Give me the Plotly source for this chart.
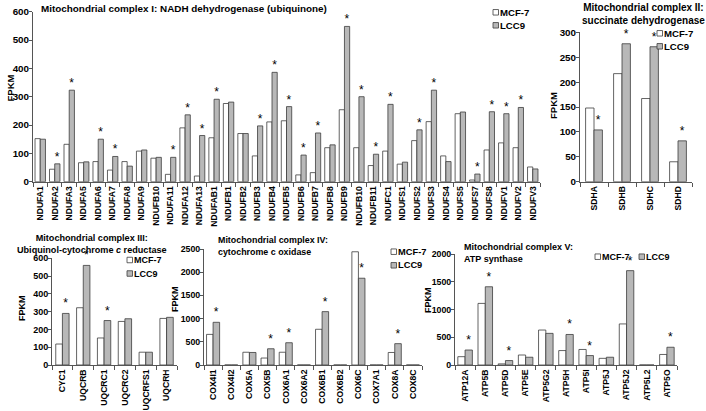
import plotly.graph_objects as go

# ---------------- data ----------------
cats1 = ["NDUFA1", "NDUFA2", "NDUFA3", "NDUFA5", "NDUFA6", "NDUFA7", "NDUFA8", "NDUFA9",
         "NDUFB10", "NDUFA11", "NDUFA12", "NDUFA13", "NDUFAB1", "NDUFB1", "NDUFB2", "NDUFB3",
         "NDUFB4", "NDUFB5", "NDUFB6", "NDUFB7", "NDUFB8", "NDUFB9", "NDUFB10", "NDUFB11",
         "NDUFC1", "NDUFS1", "NDUFS2", "NDUFS3", "NDUFS4", "NDUFS5", "NDUFS7", "NDUFS8",
         "NDUFV1", "NDUFV2", "NDUFV3"]
mcf1 = [152, 44, 132, 67, 71, 41, 71, 108, 83, 26, 190, 20, 155, 276, 170, 91, 211, 215, 24, 32,
        120, 254, 120, 57, 108, 62, 145, 212, 91, 240, 6, 112, 137, 120, 52]
lcc1 = [150, 63, 323, 70, 150, 89, 55, 112, 86, 86, 236, 163, 291, 281, 170, 197, 386, 265, 94, 172,
        130, 548, 300, 97, 273, 69, 183, 323, 71, 246, 27, 247, 240, 262, 45]
sig1 = [0, 1, 1, 0, 1, 1, 0, 0, 0, 1, 1, 1, 1, 0, 0, 1, 1, 1, 1, 1,
        0, 1, 1, 1, 1, 0, 1, 1, 0, 0, 1, 1, 1, 1, 0]

cats2 = ["SDHA", "SDHB", "SDHC", "SDHD"]
mcf2 = [148, 217, 167, 40]
lcc2 = [104, 277, 271, 82]
sig2 = [1, 1, 1, 1]

cats3 = ["CYC1", "UQCRB", "UQCRC1", "UQCRC2", "UQCRFS1", "UQCRH"]
mcf3 = [118, 322, 152, 245, 72, 262]
lcc3 = [290, 560, 250, 260, 72, 268]
sig3 = [1, 1, 1, 0, 0, 0]

cats4 = ["COX4I1", "COX4I2", "COX5A", "COX5B", "COX6A1", "COX6A2", "COX6B1", "COX6B2",
         "COX6C", "COX7A1", "COX8A", "COX8C"]
mcf4 = [660, 0, 275, 150, 275, 0, 770, 0, 2440, 0, 270, 0]
lcc4 = [920, 0, 270, 350, 480, 0, 1150, 0, 1870, 0, 460, 0]
sig4 = [1, 0, 0, 1, 1, 0, 1, 0, 1, 0, 1, 0]

cats5 = ["ATP12A", "ATP5B", "ATP5D", "ATP5E", "ATP5G2", "ATP5H", "ATP5I", "ATP5J", "ATP5J2",
         "ATP5L2", "ATP5O"]
mcf5 = [150, 1110, 20, 180, 630, 260, 280, 120, 740, 0, 190]
lcc5 = [270, 1410, 80, 140, 570, 550, 170, 140, 1700, 0, 320]
sig5 = [1, 1, 1, 0, 0, 1, 1, 0, 1, 0, 1]

series_names = ["MCF-7", "LCC9"]

# ---------------- styling ----------------
W, H = 706, 411
FONT = "Liberation Sans"
EDGE = "#3c3c3c"
GREY = "#b8b8b8"
AX = "#555555"
FILLS = ["white", GREY]


def fx(px):
    return px / W


def fy(py):
    return 1 - py / H


panels = [
    # cats, mcf, lcc, sig, suffix, bar width, x px domain, y px (bottom, top), y max, dtick, ytick size
    (cats1, mcf1, lcc1, sig1, "", 0.36, (33, 540), (181.7, 11.7), 600, 100, 9.8),
    (cats2, mcf2, lcc2, sig2, "2", 0.30, (580, 692), (181.7, 32.3), 300, 50, 9.8),
    (cats3, mcf3, lcc3, sig3, "3", 0.32, (52, 177), (365, 258.3), 600, 100, 9),
    (cats4, mcf4, lcc4, sig4, "4", 0.36, (204, 422), (365, 249), 2500, 500, 8.8),
    (cats5, mcf5, lcc5, sig5, "5", 0.36, (455, 677), (365, 254), 2000, 500, 8.8),
]

fig = go.Figure()
layout_axes = {}
for cats, m, l, s, suf, w, xd, yd, ymax, dt, yts in panels:
    idx = list(range(len(cats)))
    xa, ya = "x" + suf, "y" + suf
    fig.add_trace(go.Bar(
        x=idx, y=m, width=w, offset=-w, name=series_names[0], xaxis=xa, yaxis=ya,
        showlegend=False,
        marker=dict(color=FILLS[0], line=dict(color=EDGE, width=0.8)),
        hoverinfo="skip"))
    fig.add_trace(go.Bar(
        x=idx, y=l, width=w, offset=0, name=series_names[1], xaxis=xa, yaxis=ya,
        showlegend=False,
        marker=dict(color=FILLS[1], line=dict(color=EDGE, width=0.8)),
        text=["*" if f else "" for f in s], textposition="outside",
        textfont=dict(size=12, color="black", family=FONT), constraintext="none",
        cliponaxis=False, hoverinfo="skip"))
    layout_axes["xaxis" + suf] = dict(
        domain=[fx(xd[0]), fx(xd[1])], range=[-0.5, len(cats) - 0.5], anchor=ya,
        tickmode="array", tickvals=idx, ticktext=cats, tickangle=-90, ticks="",
        tickfont=dict(size=8.6, family=FONT, color="black", weight="bold"),
        showline=True, linecolor=AX, linewidth=1, showgrid=False, zeroline=False,
        automargin=False,
        minor=dict(tickmode="array", tickvals=[i - 0.5 for i in range(len(cats) + 1)],
                   ticks="outside", ticklen=4, tickcolor=AX, tickwidth=1, showgrid=False),
        fixedrange=True)
    layout_axes["yaxis" + suf] = dict(
        domain=[fy(yd[0]), fy(yd[1])], range=[0, ymax], anchor=xa,
        tickmode="linear", tick0=0, dtick=dt, showticklabels=True,
        ticklabeloverflow="allow", automargin=False,
        ticks="outside", ticklen=3, tickcolor=AX, side="left",
        tickfont=dict(size=yts, family=FONT, color="black", weight="bold"),
        showline=True, linecolor=AX, linewidth=1, showgrid=False, zeroline=False,
        fixedrange=True)

fig.update_layout(
    template="none",
    width=W, height=H, margin=dict(l=0, r=0, t=0, b=0, autoexpand=False),
    paper_bgcolor="white", plot_bgcolor="rgba(0,0,0,0)", barmode="overlay",
    font=dict(family=FONT, color="black"), showlegend=False,
    **layout_axes,
)
try:
    fig.update_yaxes(ticklabelstandoff=-2)
except Exception:
    pass

ann = []
shapes = []


def title(text, x, y, size, xanchor="left", align="left"):
    ann.append(dict(text=text, x=fx(x), y=fy(y), xref="paper", yref="paper", showarrow=False,
                    xanchor=xanchor, yanchor="middle", align=align,
                    font=dict(size=size, family=FONT, color="black")))


title("<b>Mitochondrial complex I: NADH dehydrogenase (ubiquinone)</b>", 39, 9, 9.9)
title("<b>Mitochondrial complex II:<br>succinate dehydrogenase</b>", 643, 13.5, 10, "center", "center")
title("<b>Mitochondrial complex III:<br>Ubiquinol-cytochrome <i>c</i> reductase</b>", 92, 244, 9.1, "center", "center")
title("<b>Mitochondrial complex IV:<br>cytochrome c oxidase</b>", 216, 246, 8.9)
title("<b>Mitochondrial complex V:<br>ATP synthase</b>", 462, 253, 9)

for x, y, sz in [(10.5, 88, 9.5), (553, 106, 9.5), (22, 308, 9), (175, 299, 9), (428, 300, 9)]:
    ann.append(dict(text="<b>FPKM</b>", x=fx(x), y=fy(y), xref="paper", yref="paper",
                    showarrow=False, textangle=-90, xanchor="center", yanchor="middle",
                    font=dict(size=sz, family=FONT, color="black")))

# legend entries: (swatch left px, row centre px) for MCF-7 and LCC9 of each panel, font size
legend_rows = [
    ([(493, 12.3), (493, 25.3)], 9.6),
    ([(657, 33.3), (657, 46.3)], 9.6),
    ([(127, 260), (127, 273.5)], 9),
    ([(391, 251.7), (391, 265.3)], 9.3),
    ([(595, 256.7), (639, 256.7)], 9),
]
SW = 5.5
for rows, fs in legend_rows:
    for k, (sx, sy) in enumerate(rows):
        shapes.append(dict(type="rect", xref="paper", yref="paper",
                           x0=fx(sx), x1=fx(sx + SW), y0=fy(sy + SW / 2), y1=fy(sy - SW / 2),
                           fillcolor=FILLS[k], line=dict(color=EDGE, width=0.8)))
        ann.append(dict(text="<b>" + series_names[k] + "</b>", x=fx(sx + SW + 0.5), y=fy(sy),
                        xref="paper", yref="paper", showarrow=False, xanchor="left",
                        yanchor="middle", borderpad=0,
                        font=dict(size=fs, family=FONT, color="black")))

fig.update_layout(annotations=ann, shapes=shapes)
fig.write_html("out.html", config={"displayModeBar": False, "staticPlot": True},
               post_script="document.body.style.margin='0px';document.body.style.overflow='hidden';")
